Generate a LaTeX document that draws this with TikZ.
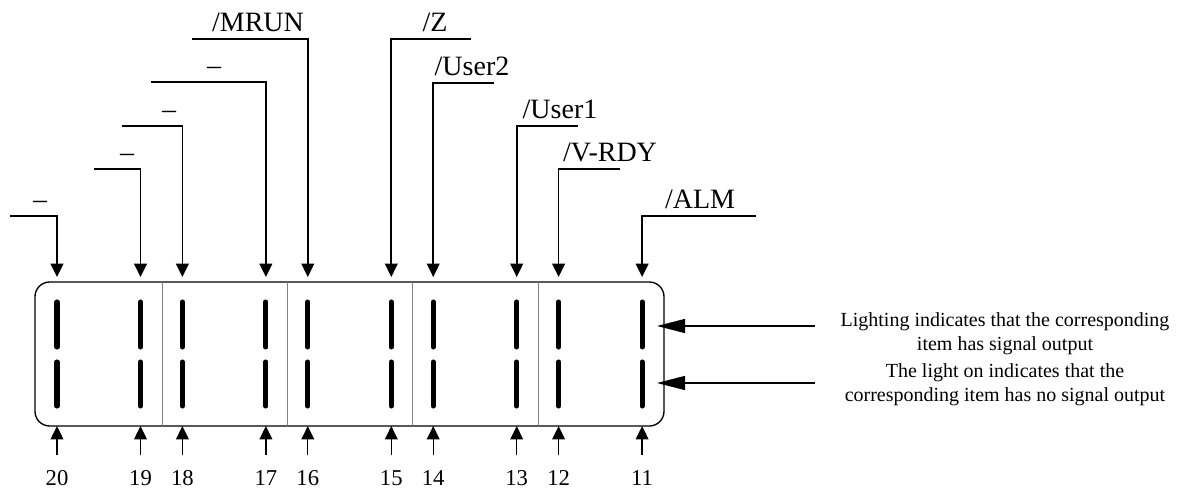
\documentclass[tikz,border=0pt]{standalone}
\usepackage{fontspec}
\setmainfont{Liberation Serif}
\usetikzlibrary{arrows.meta}

\begin{document}
\begin{tikzpicture}[
  x=0.75pt, y=-0.75pt,
  wire/.style={line width=1.3pt, -{Triangle[length=10pt,width=9.5pt]}},
  pointer/.style={line width=1pt, -{Triangle[length=21pt,width=10.5pt]}},
  led/.style={line width=3.8pt, line cap=round},
  divider/.style={draw=gray, line width=0.6pt},
  sigtag/.style={anchor=base, inner sep=0pt, font=\fontsize{21}{25}\selectfont},
  pinno/.style={anchor=north, inner sep=0pt, font=\fontsize{17}{20}\selectfont},
  note/.style={anchor=north, inner sep=0pt, align=center, font=\fontsize{15}{18}\selectfont},
]
\useasboundingbox (0,0) rectangle (1180,488);

% Panel body (629 x 144 px)
\node[draw, line width=1pt, rounded corners=11pt, inner sep=0pt,
      minimum width=471.75pt, minimum height=108pt] (panel) at (349.5,354) {};

% Group separators
\foreach \dx in {162,287,412.5,538}
  \draw[divider] (\dx,282) -- (\dx,426);

% LEDs, pin numbers and bottom arrows
\foreach \n/\x in {20/57,19/140.5,18/182.4,17/265.9,16/307.8,
                   15/391.3,14/433.2,13/516.7,12/558.6,11/642.1} {
  \draw[led] (\x,302) -- (\x,347);
  \draw[led] (\x,362) -- (\x,406);
  \node[pinno] (n\n) at (\x,470) {\n};
  \coordinate (b\n) at (\x,426);
  \draw[wire, line width=1pt, shorten <=11pt] (n\n.north) -- (b\n);
}

% Signal names with their leaders
\foreach \n/\x/\hy/\hx/\lx/\tag in {20/57/216/10/40/\textendash,
    19/140.5/169/94/127/\textendash, 18/182.4/126/122/169/\textendash,
    17/265.9/82/151/214/\textendash, 16/307.8/39/192/258/{/MRUN},
    15/391.3/39/471/435/{/Z}, 14/433.2/83/494/472/{/User2},
    13/516.7/126/578/560/{/User1}, 12/558.6/169/620/610/{/V-RDY},
    11/642.1/216/756/700/{/ALM}} {
  \coordinate (e\n) at (\hx,\hy);
  \coordinate (k\n) at (\x,\hy);
  \coordinate (t\n) at (\x,277);
  \draw[wire] (e\n) -- (k\n) -- (t\n);
  \node[sigtag] (s\n) at (\lx,\hy-7) {\tag};
}

% Legend pointers
\coordinate (p1) at (815,326);
\coordinate (q1) at (657,326);
\coordinate (p2) at (815,383);
\coordinate (q2) at (657,383);
\draw[pointer] (p1) -- (q1);
\draw[pointer] (p2) -- (q2);
\node[note] (note1) at (1005,312) {Lighting indicates that the corresponding\\item has signal output};
\node[note] (note2) at (1005,363) {The light on indicates that the\\corresponding item has no signal output};

\end{tikzpicture}
\end{document}
